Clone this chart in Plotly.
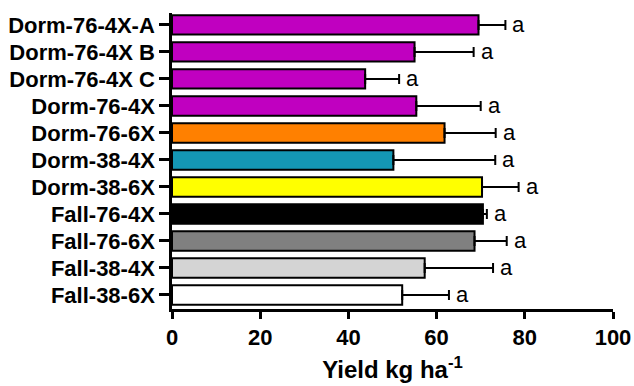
import plotly.graph_objects as go

categories = ["Dorm-76-4X-A", "Dorm-76-4X B", "Dorm-76-4X C", "Dorm-76-4X",
              "Dorm-76-6X", "Dorm-38-4X", "Dorm-38-6X", "Fall-76-4X",
              "Fall-76-6X", "Fall-38-4X", "Fall-38-6X"]
means = [69.5, 55.0, 43.8, 55.4, 61.8, 50.2, 70.3, 70.5, 68.6, 57.3, 52.2]
errors = [6.1, 13.4, 7.7, 14.6, 11.6, 23.1, 8.3, 0.9, 7.3, 15.5, 10.6]
letters = ["a"] * 11
bar_colors = ["#C000C0", "#C000C0", "#C000C0", "#C000C0", "#FF8000", "#1497B4",
              "#FFFF00", "#000000", "#808080", "#D4D4D4", "#FFFFFF"]
x_ticks = [0, 20, 40, 60, 80, 100]

FONT = "Liberation Sans, Arial, sans-serif"

fig = go.Figure()
fig.add_trace(go.Bar(
    x=means, y=categories, orientation="h",
    width=0.72,
    marker=dict(color=bar_colors, line=dict(color="black", width=2)),
    error_x=dict(type="data", array=errors, arrayminus=[0] * len(errors),
                 symmetric=False, color="black", thickness=2, width=5),
    showlegend=False,
))

for cat, m, e, lab in zip(categories, means, errors, letters):
    fig.add_annotation(x=m + e, y=cat, text=lab, showarrow=False,
                       xanchor="left", yanchor="middle", xshift=5,
                       font=dict(family=FONT, size=22, color="black"))

fig.update_layout(
    width=634, height=386,
    margin=dict(l=172, r=21, t=13, b=77),
    plot_bgcolor="white", paper_bgcolor="white",
    xaxis=dict(
        range=[0, 100], tickmode="array", tickvals=x_ticks,
        ticktext=[str(v) for v in x_ticks],
        showgrid=False, zeroline=False, automargin=False,
        showline=True, linecolor="black", linewidth=2.5,
        ticks="outside", ticklen=7, tickwidth=2.5, tickcolor="black",
        tickfont=dict(family=FONT, size=22, color="black", weight="bold"),
        title=dict(text="Yield kg ha<sup>-1</sup>", standoff=13,
                   font=dict(family=FONT, size=24, color="black", weight="bold")),
    ),
    yaxis=dict(
        categoryorder="array", categoryarray=categories,
        tickmode="array", tickvals=categories, ticktext=categories,
        range=[10.52, -0.44], automargin=False,
        showgrid=False, zeroline=False,
        showline=True, linecolor="black", linewidth=2.5,
        ticks="outside", ticklen=10, tickwidth=2.5, tickcolor="black",
        tickfont=dict(family=FONT, size=22, color="black", weight="bold"),
    ),
)

fig.write_html("out.html", config={"displayModeBar": False},
               post_script="document.body.style.margin='0';document.body.style.overflow='hidden';")
